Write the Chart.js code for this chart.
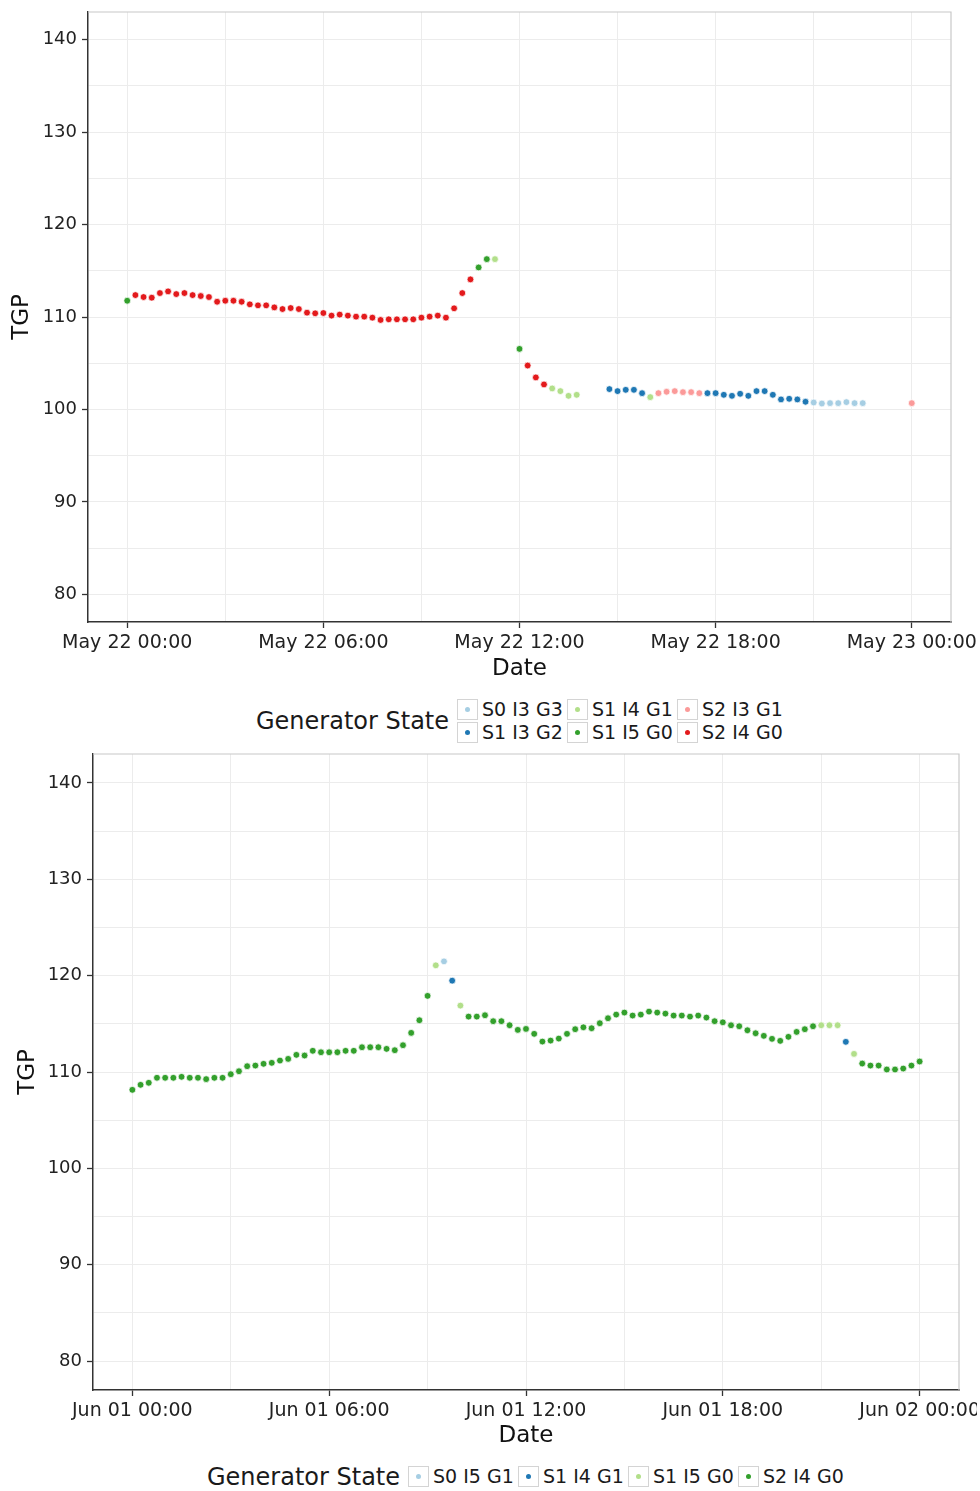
<!DOCTYPE html>
<html>
<head>
<meta charset="utf-8">
<script src="https://cdn.jsdelivr.net/npm/chart.js@4.4.0/dist/chart.umd.min.js"></script>
<style>
html, body { margin: 0; padding: 0; background: #fff; }
body { width: 980px; height: 1491px; position: relative; overflow: hidden; font-family: "DejaVu Sans", sans-serif; color: #1a1a1a; }
.wrap { position: absolute; left: 0; width: 980px; }
#wrap1 { top: 0; height: 690px; }
#wrap2 { top: 745px; height: 710px; width: 977px; overflow: hidden; }
.ltitle { position: absolute; font-size: 24px; line-height: 28px; white-space: nowrap; }
.key { position: absolute; height: 23px; display: flex; align-items: center; white-space: nowrap; }
.box { width: 21px; height: 21px; border: 1px solid #d4d4d4; box-sizing: border-box; display: flex; align-items: center; justify-content: center; margin-right: 4px; }
.dot { width: 5px; height: 5px; border-radius: 50%; }
.lab { font-size: 19px; line-height: 23px; }
</style>
</head>
<body>
<div class="wrap" id="wrap1"><canvas id="chart1" width="980" height="690"></canvas></div>
<div class="wrap" id="wrap2"><canvas id="chart2" width="980" height="710"></canvas></div>
<div id="legend1"></div>
<div id="legend2"></div>
<script>
// ---- data: one reading every 15 minutes, null = no reading ----
const STEP_HOURS = 0.25;

const xLabels1 = ['May 22 00:00', 'May 22 06:00', 'May 22 12:00', 'May 22 18:00', 'May 23 00:00'];
const xLabels2 = ['Jun 01 00:00', 'Jun 01 06:00', 'Jun 01 12:00', 'Jun 01 18:00', 'Jun 02 00:00'];
const yTicks = [80, 90, 100, 110, 120, 130, 140];

const states1 = ['S0 I3 G3', 'S1 I3 G2', 'S1 I4 G1', 'S1 I5 G0', 'S2 I3 G1', 'S2 I4 G0'];
const colors1 = ['#a6cee3', '#1f78b4', '#b2df8a', '#33a02c', '#fb9a99', '#e31a1c'];

const tgp1 = [
  111.76, 112.37, 112.16, 112.09, 112.59, 112.77, 112.48, 112.59, 112.37, 112.27,
  112.16, 111.65, 111.76, 111.76, 111.65, 111.37, 111.26, 111.26, 111.04, 110.86,
  110.97, 110.86, 110.47, 110.40, 110.43, 110.15, 110.26, 110.15, 110.04, 110.04,
  109.93, 109.68, 109.75, 109.75, 109.75, 109.75, 109.93, 110.04, 110.15, 109.93,
  110.94, 112.59, 114.07, 115.36, 116.26, 116.26, null, null, 106.55, 104.75,
  103.46, 102.70, 102.27, 101.98, 101.47, 101.58, null, null, null, 102.20,
  101.98, 102.12, 102.12, 101.76, 101.33, 101.76, 101.91, 101.98, 101.87, 101.87,
  101.76, 101.76, 101.76, 101.58, 101.47, 101.69, 101.47, 101.98, 101.98, 101.58,
  101.08, 101.15, 101.08, 100.83, 100.75, 100.64, 100.68, 100.68, 100.79, 100.68,
  100.68, null, null, null, null, null, 100.68
];
const state1 = [
  3, 5, 5, 5, 5, 5, 5, 5, 5, 5,
  5, 5, 5, 5, 5, 5, 5, 5, 5, 5,
  5, 5, 5, 5, 5, 5, 5, 5, 5, 5,
  5, 5, 5, 5, 5, 5, 5, 5, 5, 5,
  5, 5, 5, 3, 3, 2, -1, -1, 3, 5,
  5, 5, 2, 2, 2, 2, -1, -1, -1, 1,
  1, 1, 1, 1, 2, 4, 4, 4, 4, 4,
  4, 1, 1, 1, 1, 1, 1, 1, 1, 1,
  1, 1, 1, 1, 0, 0, 0, 0, 0, 0,
  0, -1, -1, -1, -1, -1, 4
];

const states2 = ['S0 I5 G1', 'S1 I4 G1', 'S1 I5 G0', 'S2 I4 G0'];
const colors2 = ['#a6cee3', '#1f78b4', '#b2df8a', '#33a02c'];

const tgp2 = [
  108.15, 108.67, 108.88, 109.40, 109.40, 109.40, 109.50, 109.40, 109.40, 109.26,
  109.40, 109.40, 109.77, 110.08, 110.60, 110.67, 110.85, 110.95, 111.19, 111.36,
  111.78, 111.71, 112.20, 112.05, 112.05, 112.05, 112.20, 112.20, 112.57, 112.57,
  112.57, 112.40, 112.26, 112.78, 114.06, 115.37, 117.90, 121.07, 121.48, 119.48,
  116.89, 115.75, 115.75, 115.89, 115.27, 115.27, 114.85, 114.37, 114.47, 113.96,
  113.16, 113.26, 113.47, 113.96, 114.44, 114.64, 114.54, 115.06, 115.58, 115.96,
  116.17, 115.86, 115.96, 116.27, 116.17, 116.06, 115.86, 115.86, 115.75, 115.86,
  115.65, 115.27, 115.16, 114.85, 114.75, 114.33, 114.02, 113.75, 113.44, 113.23,
  113.65, 114.16, 114.44, 114.75, 114.85, 114.85, 114.85, 113.13, 111.88, 110.88,
  110.67, 110.67, 110.26, 110.26, 110.36, 110.67, 111.09
];
const state2 = [
  3, 3, 3, 3, 3, 3, 3, 3, 3, 3,
  3, 3, 3, 3, 3, 3, 3, 3, 3, 3,
  3, 3, 3, 3, 3, 3, 3, 3, 3, 3,
  3, 3, 3, 3, 3, 3, 3, 2, 0, 1,
  2, 3, 3, 3, 3, 3, 3, 3, 3, 3,
  3, 3, 3, 3, 3, 3, 3, 3, 3, 3,
  3, 3, 3, 3, 3, 3, 3, 3, 3, 3,
  3, 3, 3, 3, 3, 3, 3, 3, 3, 3,
  3, 3, 3, 3, 2, 2, 2, 1, 2, 3,
  3, 3, 3, 3, 3, 3, 3
];

const FONT = '"DejaVu Sans", sans-serif';

// light grey top/right edges of the panel
const panelBorder = {
  id: 'panelBorder',
  beforeDatasetsDraw(chart) {
    const { ctx, chartArea: a } = chart;
    ctx.save();
    ctx.strokeStyle = '#c8c8c8';
    ctx.lineWidth = 1.2;
    ctx.beginPath();
    ctx.moveTo(a.left, a.top);
    ctx.lineTo(a.right, a.top);
    ctx.lineTo(a.right, a.bottom);
    ctx.stroke();
    ctx.restore();
  }
};

function buildDatasets(names, colors, values, stateIdx) {
  return names.map((name, s) => ({
    label: name,
    data: values
      .map((v, i) => ({ x: i * STEP_HOURS, y: v, s: stateIdx[i] }))
      .filter(p => p.y !== null && p.s === s),
    backgroundColor: colors[s],
    borderColor: 'rgba(255,255,255,0.75)',
    borderWidth: 1,
    pointRadius: 3.4
  }));
}

function makeChart(id, names, colors, values, stateIdx, xLabels, lay) {
  const axisText = '#222';
  new Chart(document.getElementById(id), {
    type: 'scatter',
    data: { datasets: buildDatasets(names, colors, values, stateIdx) },
    options: {
      responsive: false,
      animation: false,
      events: [],
      layout: { padding: { top: lay.top, right: lay.right, left: 0, bottom: 0 } },
      plugins: { legend: { display: false }, tooltip: { enabled: false } },
      scales: {
        x: {
          type: 'linear',
          min: -1.2,
          max: 25.2,
          afterBuildTicks: s => { s.ticks = [0, 3, 6, 9, 12, 15, 18, 21, 24].map(v => ({ value: v })); },
          afterFit: s => { s.height = lay.xHeight; s.paddingLeft = 0; s.paddingRight = 0; },
          ticks: {
            autoSkip: false, maxRotation: 0, minRotation: 0, padding: 4,
            color: axisText, font: { family: FONT, size: 19 },
            callback: v => (v % 6 === 0 ? xLabels[v / 6] : '')
          },
          grid: {
            color: '#ececec', lineWidth: 1, tickLength: 6, tickWidth: 1.3,
            tickColor: c => (c.tick && c.tick.value % 6 === 0 ? '#333' : 'rgba(0,0,0,0)')
          },
          border: { color: '#333', width: 1.5 },
          title: {
            display: true, text: 'Date', color: '#111',
            font: { family: FONT, size: 23 }, padding: { top: 0, bottom: lay.xTitlePad }
          }
        },
        y: {
          min: 77,
          max: 143,
          afterBuildTicks: s => { s.ticks = [80, 85, 90, 95, 100, 105, 110, 115, 120, 125, 130, 135, 140].map(v => ({ value: v })); },
          afterFit: s => { s.width = lay.yWidth; s.paddingTop = 0; s.paddingBottom = 0; },
          ticks: {
            padding: 5, color: axisText, font: { family: FONT, size: 18 },
            callback: v => (yTicks.includes(v) ? String(v) : '')
          },
          grid: {
            color: '#ececec', lineWidth: 1, tickLength: 6, tickWidth: 1.3,
            tickColor: c => (c.tick && yTicks.includes(c.tick.value) ? '#333' : 'rgba(0,0,0,0)')
          },
          border: { color: '#333', width: 1.5 },
          title: {
            display: true, text: 'TGP', color: '#111',
            font: { family: FONT, size: 23 }, padding: { top: lay.yTitlePad, bottom: 0 }
          }
        }
      }
    },
    plugins: [panelBorder]
  });
}

function makeLegend(id, names, colors, pos) {
  const root = document.getElementById(id);
  const t = document.createElement('div');
  t.className = 'ltitle';
  t.textContent = 'Generator State';
  t.style.left = pos.titleX + 'px';
  t.style.top = pos.titleY + 'px';
  root.appendChild(t);
  names.forEach((name, i) => {
    const col = Math.floor(i / pos.rows), row = i % pos.rows;
    const k = document.createElement('div');
    k.className = 'key';
    k.style.left = (pos.x + col * pos.colW) + 'px';
    k.style.top = (pos.y + row * 23) + 'px';
    k.innerHTML = '<span class="box"><span class="dot" style="background:' + colors[i] +
      '"></span></span><span class="lab">' + name + '</span>';
    root.appendChild(k);
  });
}

makeChart('chart1', states1, colors1, tgp1, state1, xLabels1,
  { top: 12, right: 29, yWidth: 88, xHeight: 68, yTitlePad: 8, xTitlePad: 7 });
makeChart('chart2', states2, colors2, tgp2, state2, xLabels2,
  { top: 9, right: 21, yWidth: 93, xHeight: 65, yTitlePad: 14, xTitlePad: 5 });

makeLegend('legend1', states1, colors1, { titleX: 256, titleY: 707, x: 457, y: 698, rows: 2, colW: 110 });
makeLegend('legend2', states2, colors2, { titleX: 207, titleY: 1463, x: 408, y: 1465, rows: 1, colW: 110 });
</script>
</body>
</html>
